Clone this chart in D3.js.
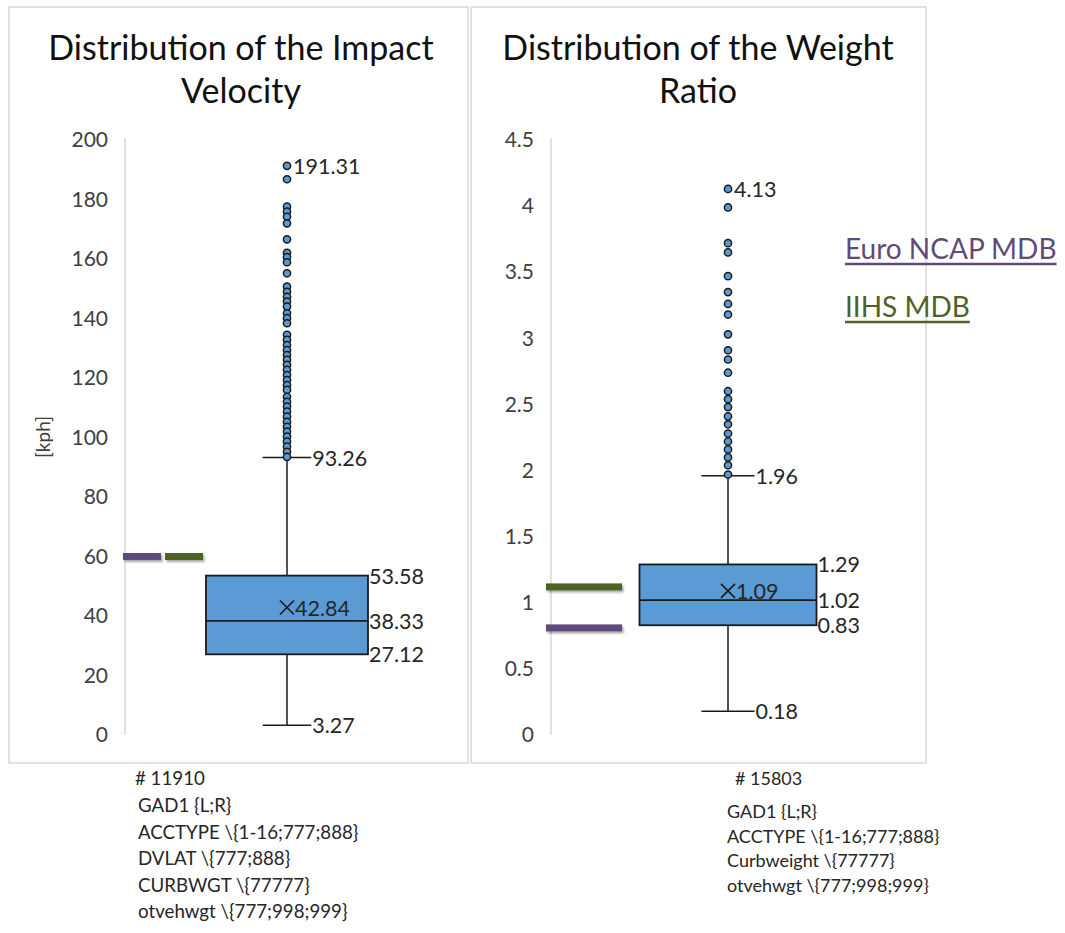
<!DOCTYPE html>
<html>
<head>
<meta charset="utf-8">
<script src="https://cdn.jsdelivr.net/npm/d3@7"></script>
<style>
  body { margin: 0; background: #fff; }
  svg { font-family: Lato, "Open Sans", sans-serif; }
  .axis path { stroke: #d9d9d9; stroke-width: 1.5; }
  .axis text { fill: #404040; font-size: 21px; font-family: Lato, sans-serif; }
</style>
</head>
<body>
<svg width="1065" height="933"></svg>
<script>
// box stats: min whisker, q1, median, q3, max whisker, mean
var velocityStats = [3.27, 27.12, 38.33, 53.58, 93.26, 42.84];
var velocityOutliers = [191.31, 186.8, 177.6, 175.9, 174.2, 172.0, 166.6, 162.1, 160.6, 158.9,
  155.2, 150.7, 149.0, 147.3, 145.7, 144.0, 141.7, 140.1, 138.4, 134.5, 132.8, 131.1, 129.4,
  127.7, 126.1, 124.4, 122.7, 121.0, 119.3, 117.6, 116.0, 113.7, 112.0, 110.4, 108.7, 107.0,
  105.3, 103.6, 102.0, 100.3, 98.6, 96.9, 95.2, 93.5];
var velocityTicks = [0, 20, 40, 60, 80, 100, 120, 140, 160, 180, 200];

var ratioStats = [0.18, 0.83, 1.02, 1.29, 1.96, 1.09];
var ratioOutliers = [4.13, 3.99, 3.72, 3.65, 3.47, 3.35, 3.26, 3.18, 3.03, 2.91, 2.84, 2.74,
  2.60, 2.54, 2.48, 2.41, 2.35, 2.28, 2.22, 2.16, 2.10, 2.04, 1.97];
var ratioTicks = [0, 0.5, 1, 1.5, 2, 2.5, 3, 3.5, 4, 4.5];

var refNames = ["Euro NCAP MDB", "IIHS MDB"];
var refColors = ["#604a7b", "#4f6228"];
var velocityRefs = [60, 60];
var ratioRefs = [0.81, 1.12];

var velocityNotes = ["GAD1 {L;R}", "ACCTYPE \\{1-16;777;888}", "DVLAT \\{777;888}", "CURBWGT \\{77777}", "otvehwgt \\{777;998;999}"];
var ratioNotes = ["GAD1 {L;R}", "ACCTYPE \\{1-16;777;888}", "Curbweight \\{77777}", "otvehwgt \\{777;998;999}"];

var svg = d3.select("svg");
var boxFill = "#5b9bd5", ink = "#1a1a1a", textCol = "#262626";

var defs = svg.append("defs");
defs.append("filter").attr("id", "shadow").attr("filterUnits", "userSpaceOnUse")
  .attr("x", 0).attr("y", 0).attr("width", 1065).attr("height", 933)
  .append("feDropShadow").attr("dx", 1.5).attr("dy", 2).attr("stdDeviation", 1.2)
  .attr("flood-color", "#000").attr("flood-opacity", 0.35);

function drawPanel(o) {
  var g = svg.append("g");
  g.append("rect")
    .attr("x", o.left).attr("y", 7).attr("width", o.right - o.left).attr("height", 756)
    .attr("fill", "none").attr("stroke", "#d9d9d9").attr("stroke-width", 1.5);

  var title = g.append("text").attr("text-anchor", "middle")
    .attr("font-size", 34).attr("fill", "#111");
  o.title.forEach(function(t, i) {
    title.append("tspan").attr("x", o.titleX).attr("y", 60 + i * 43).text(t);
  });

  var y = d3.scaleLinear().domain(o.domain).range([735, 140]);
  var x = d3.scalePoint().domain(["s"]).range([o.x0, o.x1]).padding(0.5);
  var plotW = o.x1 - o.x0;
  var cx = x("s"), bw = plotW * 0.5, cap = plotW * 0.075;

  g.append("g").attr("class", "axis")
    .attr("transform", "translate(" + o.x0 + ",0)")
    .call(d3.axisLeft(y).tickValues(o.ticks).tickSize(0).tickPadding(17).tickFormat(d3.format("")))
    .call(function(a) { a.select(".domain").attr("d", "M0,138V735"); });

  var s = o.stats;
  // whiskers
  g.append("line").attr("x1", cx).attr("x2", cx).attr("y1", y(s[3])).attr("y2", y(s[4]))
    .attr("stroke", ink).attr("stroke-width", 1.5);
  g.append("line").attr("x1", cx).attr("x2", cx).attr("y1", y(s[1])).attr("y2", y(s[0]))
    .attr("stroke", ink).attr("stroke-width", 1.5);
  [s[0], s[4]].forEach(function(v) {
    g.append("line").attr("x1", cx - cap).attr("x2", cx + cap).attr("y1", y(v)).attr("y2", y(v))
      .attr("stroke", ink).attr("stroke-width", 1.5);
  });
  // box
  g.append("rect").attr("x", cx - bw / 2).attr("width", bw)
    .attr("y", y(s[3])).attr("height", y(s[1]) - y(s[3]))
    .attr("fill", boxFill).attr("stroke", ink).attr("stroke-width", 1.8);
  g.append("line").attr("x1", cx - bw / 2).attr("x2", cx + bw / 2).attr("y1", y(s[2])).attr("y2", y(s[2]))
    .attr("stroke", ink).attr("stroke-width", 1.8);
  // mean marker
  var my = y(s[5]);
  g.append("path").attr("d", "M" + (cx - 7) + "," + (my - 7) + "L" + (cx + 7) + "," + (my + 7) +
      "M" + (cx + 7) + "," + (my - 7) + "L" + (cx - 7) + "," + (my + 7))
    .attr("stroke", ink).attr("stroke-width", 1.6);

  // outliers
  g.selectAll("circle").data(o.outliers).enter().append("circle")
    .attr("cx", cx).attr("cy", function(d) { return y(d); }).attr("r", 3.6)
    .attr("fill", boxFill).attr("stroke", ink).attr("stroke-width", 1.5);

  // labels
  var lab = g.append("g").attr("font-size", 21.5).attr("fill", textCol).attr("dominant-baseline", "central");
  lab.append("text").attr("x", cx + 6).attr("y", y(o.outliers[0])).text(o.fmt(o.outliers[0]));
  lab.append("text").attr("x", cx + cap + 1).attr("y", y(s[4])).text(o.fmt(s[4]));
  lab.append("text").attr("x", cx + cap + 1).attr("y", y(s[0])).text(o.fmt(s[0]));
  lab.append("text").attr("x", cx + bw / 2 + 1).attr("y", y(s[3])).text(o.fmt(s[3]));
  lab.append("text").attr("x", cx + bw / 2 + 1).attr("y", y(s[2])).text(o.fmt(s[2]));
  lab.append("text").attr("x", cx + bw / 2 + 1).attr("y", y(s[1])).text(o.fmt(s[1]));
  lab.append("text").attr("x", cx + 8).attr("y", my).text(o.fmt(s[5]));

  // reference bars
  o.refs.forEach(function(v, i) {
    var r = o.refX[i];
    g.append("rect").attr("x", r[0]).attr("width", r[1] - r[0])
      .attr("y", y(v) - 3.5).attr("height", 7)
      .attr("fill", refColors[i]).attr("filter", "url(#shadow)");
  });

  // notes under the panel
  var notes = g.append("g").attr("font-size", o.noteSize).attr("fill", textCol).attr("dominant-baseline", "central");
  notes.append("text").attr("x", o.noteHashX).attr("y", 778).text(o.hash);
  o.notes.forEach(function(t, i) {
    notes.append("text").attr("x", o.noteX).attr("y", o.noteY0 + i * o.noteDy).text(t);
  });
  return y;
}

drawPanel({
  left: 9, right: 468, titleX: 241,
  title: ["Distribution of the Impact", "Velocity"],
  domain: [0, 200], ticks: velocityTicks, x0: 125, x1: 449,
  stats: velocityStats, outliers: velocityOutliers,
  fmt: d3.format(".2f"),
  refs: velocityRefs, refX: [[123, 161], [165, 203]],
  hash: "# 11910", noteHashX: 135, noteX: 138, notes: velocityNotes, noteY0: 805, noteDy: 26.5, noteSize: 18.7
});

drawPanel({
  left: 471, right: 926, titleX: 698,
  title: ["Distribution of the Weight", "Ratio"],
  domain: [0, 4.5], ticks: ratioTicks, x0: 551, x1: 905,
  stats: ratioStats, outliers: ratioOutliers,
  fmt: d3.format(".2f"),
  refs: ratioRefs, refX: [[546, 622], [546, 622]],
  hash: "# 15803", noteHashX: 735, noteX: 727, notes: ratioNotes, noteY0: 811, noteDy: 24.5, noteSize: 18
});

// y title of the left panel
svg.append("text").attr("transform", "translate(42,437) rotate(-90)")
  .attr("text-anchor", "middle").attr("dominant-baseline", "central")
  .attr("font-size", 19).attr("fill", "#404040").text("[kph]");

// legend text
refNames.forEach(function(n, i) {
  var t = svg.append("text").attr("x", 845).attr("y", 259 + i * 58)
    .attr("font-size", 28).attr("fill", refColors[i]).text(n);
  var w = t.node().getComputedTextLength();
  svg.append("line").attr("x1", 845).attr("x2", 845 + w)
    .attr("y1", 264 + i * 58).attr("y2", 264 + i * 58)
    .attr("stroke", refColors[i]).attr("stroke-width", 2.4);
});
</script>
</body>
</html>
